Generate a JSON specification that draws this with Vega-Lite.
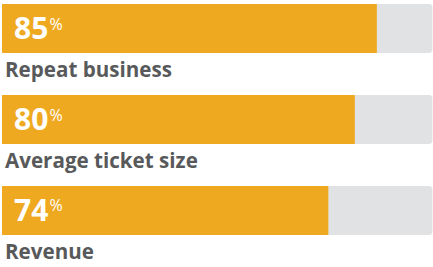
{
  "$schema": "https://vega.github.io/schema/vega-lite/v6.json",
  "width": 433,
  "height": 267,
  "padding": 0,
  "autosize": "none",
  "config": {"view": {"stroke": null}},
  "data": {"values": [
    {"metric": "Repeat business", "value": 85},
    {"metric": "Average ticket size", "value": 80},
    {"metric": "Revenue", "value": 74}
  ]},
  "encoding": {
    "y": {"field": "metric", "type": "nominal", "sort": null, "axis": null,
          "scale": {"range": [4, 235], "paddingInner": 0.4615, "paddingOuter": 0}}
  },
  "layer": [
    {"mark": {"type": "bar", "color": "#E1E2E4", "cornerRadius": 3},
     "encoding": {
       "x": {"datum": 0, "type": "quantitative", "axis": null,
             "scale": {"domain": [0, 100], "range": [2, 443], "nice": false, "zero": true}},
       "x2": {"datum": 97.6}}},
    {"mark": {"type": "bar", "color": "#EFA920"},
     "encoding": {"x": {"field": "value", "type": "quantitative"}}},
    {"mark": {"type": "text", "align": "left", "baseline": "alphabetic", "dx": 12, "dy": 10.5,
              "font": "Open Sans", "fontSize": 30, "fontWeight": "bold", "color": "#FFFFFF"},
     "encoding": {"x": {"datum": 0, "type": "quantitative"}, "text": {"field": "value", "type": "quantitative"}}},
    {"mark": {"type": "text", "align": "left", "baseline": "alphabetic", "dx": 47.5, "dy": 1,
              "font": "Open Sans", "fontSize": 16, "fontWeight": "normal", "color": "#FFFFFF"},
     "encoding": {"x": {"datum": 0, "type": "quantitative"}, "text": {"value": "%"}}},
    {"mark": {"type": "text", "align": "left", "baseline": "alphabetic", "dx": 3, "dy": 48.5,
              "font": "Open Sans", "fontSize": 20.6, "fontWeight": "bold", "color": "#58595B"},
     "encoding": {"x": {"datum": 0, "type": "quantitative"}, "text": {"field": "metric", "type": "nominal"}}}
  ]
}
